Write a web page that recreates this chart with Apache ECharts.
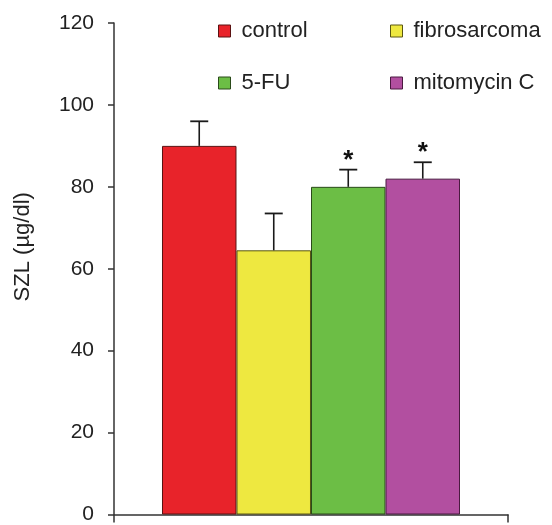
<!DOCTYPE html>
<html><head><meta charset="utf-8">
<script src="https://cdn.jsdelivr.net/npm/echarts@6/dist/echarts.min.js"></script>
<style>html,body{margin:0;padding:0;background:#fff}#c{width:552px;height:525px}</style>
</head><body><div id="c"></div>
<script>
const groups = ['control', 'fibrosarcoma', '5-FU', 'mitomycin C'];
const means = [90, 64.5, 80, 82];
const errors = [6, 9, 4.2, 4];
const significant = [false, false, true, true];
const yTicks = [0, 20, 40, 60, 80, 100, 120];
const colors = ['#E8232A', '#EEE840', '#6CBE45', '#B24FA0'];
const borders = ['#5a1212', '#5a5612', '#2a4a1a', '#4a1a40'];

const chart = echarts.init(document.getElementById('c'), null, {renderer: 'canvas'});
const FONT = 'Liberation Sans, Arial, sans-serif';

const barSeries = groups.map((g, i) => ({
  name: g, type: 'bar', barWidth: 74.5, barGap: '-100%',
  itemStyle: {color: colors[i], borderColor: borders[i], borderWidth: 1},
  data: [[i, means[i]]], z: 2
}));

const errSeries = {
  type: 'custom', silent: true, z: 5,
  data: groups.map((g, i) => [i, means[i], means[i] + errors[i], significant[i] ? 1 : 0]),
  renderItem: function (params, api) {
    const x = api.value(0);
    const p0 = api.coord([x, api.value(1)]);
    const p1 = api.coord([x, api.value(2)]);
    const cap = 9;
    const children = [
      {type: 'line', shape: {x1: p0[0], y1: p0[1], x2: p1[0], y2: p1[1]}, style: {stroke: '#1a1a1a', lineWidth: 1.6}},
      {type: 'line', shape: {x1: p1[0] - cap, y1: p1[1], x2: p1[0] + cap, y2: p1[1]}, style: {stroke: '#1a1a1a', lineWidth: 1.8}}
    ];
    if (api.value(3)) {
      children.push({type: 'text', style: {text: '*', x: p1[0], y: p1[1] + 4, align: 'center', verticalAlign: 'bottom', font: 'bold 26px ' + FONT, fill: '#111'}});
    }
    return {type: 'group', children: children};
  }
};

const legendPos = [[213, 15], [385, 15], [213, 67], [385, 67]];
const legends = groups.map((g, i) => ({
  data: [g], left: legendPos[i][0], top: legendPos[i][1],
  itemWidth: 12, itemHeight: 12, icon: 'rect', selectedMode: false,
  itemStyle: {borderColor: borders[i], borderWidth: 1},
  textStyle: {fontFamily: FONT, fontSize: 22, color: '#222', padding: [0, 0, 0, 6]}
}));

chart.setOption({
  animation: false,
  color: colors,
  legend: legends,
  grid: {left: 114, right: 44, top: 23, bottom: 9, containLabel: false},
  xAxis: {
    type: 'value', min: -1.144, max: 4.144,
    axisLine: {show: true, lineStyle: {color: '#333', width: 1.5}},
    axisTick: {show: true, customValues: [-1.144, 4.144], length: 8, inside: false, lineStyle: {color: '#333', width: 1.5}},
    axisLabel: {show: false}, splitLine: {show: false}
  },
  yAxis: {
    type: 'value', min: 0, max: 120, interval: 20,
    name: 'SZL (µg/dl)', nameLocation: 'middle', nameGap: 80, nameRotate: 90,
    nameTextStyle: {fontFamily: FONT, fontSize: 22, color: '#222', padding: [0, 0, 0, 44]},
    axisLine: {show: true, onZero: false, lineStyle: {color: '#333', width: 1.5}},
    axisTick: {show: true, length: 6, lineStyle: {color: '#333', width: 1.5}},
    axisLabel: {fontFamily: FONT, fontSize: 21, color: '#222', margin: 20,
      formatter: v => yTicks.includes(v) ? String(v) : ''},
    splitLine: {show: false}
  },
  series: barSeries.concat([errSeries])
});
</script></body></html>
